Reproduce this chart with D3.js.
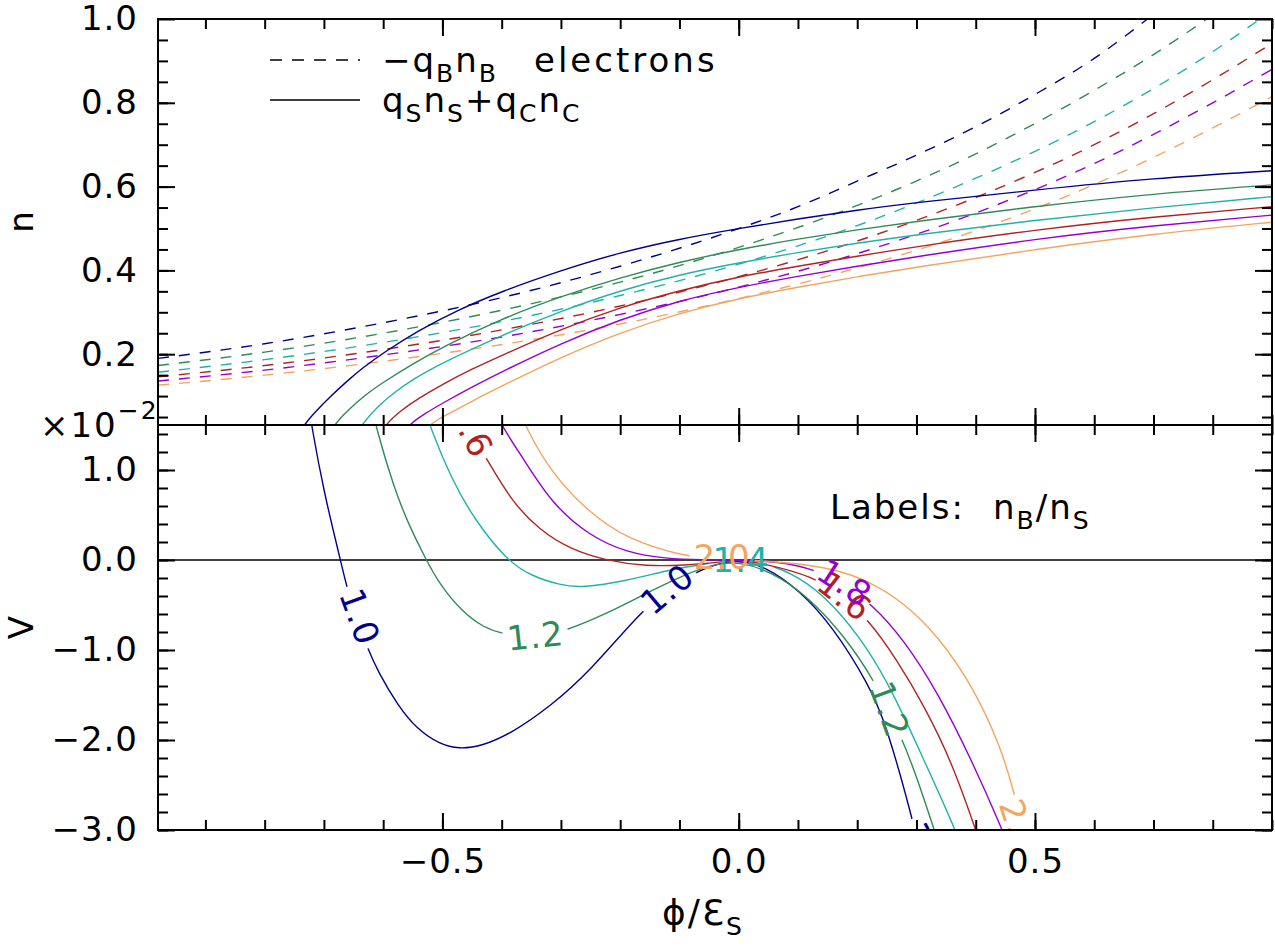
<!DOCTYPE html>
<html>
<head>
<meta charset="utf-8">
<script src="https://cdn.jsdelivr.net/npm/d3@7"></script>
<style>
  body { margin: 0; background: #fff; }
  text { font-family: "DejaVu Sans", sans-serif; }
</style>
</head>
<body>
<script>
'use strict';

// nB/nS ratio of each curve, and its colour
const ratios = ["1.0", "1.2", "1.4", "1.6", "1.8", "2.0"];
const colors = ["#00008b", "#2e8b57", "#20b2aa", "#b22222", "#9400d3", "#f4a460"];

// top panel, dashed: -qB nB (electrons), [phi, n]
const electronDensity = [
  [[-0.98,0.190],[-0.8,0.225],[-0.6,0.275],[-0.4,0.335],[-0.2,0.41],[0,0.50],[0.1,0.552],[0.2,0.613],[0.3,0.675],[0.4,0.743],[0.5,0.82],[0.6,0.906],[0.69,1.0]],
  [[-0.98,0.173],[-0.8,0.205],[-0.6,0.25],[-0.4,0.305],[-0.2,0.372],[0,0.455],[0.2,0.555],[0.4,0.678],[0.6,0.83],[0.7,0.915],[0.79,1.0]],
  [[-0.98,0.157],[-0.8,0.187],[-0.6,0.228],[-0.4,0.278],[-0.2,0.34],[0,0.415],[0.2,0.507],[0.4,0.62],[0.6,0.755],[0.8,0.922],[0.88,1.0]],
  [[-0.98,0.146],[-0.8,0.173],[-0.6,0.211],[-0.4,0.258],[-0.2,0.315],[0,0.385],[0.2,0.47],[0.4,0.574],[0.6,0.70],[0.8,0.855],[0.9,0.942]],
  [[-0.98,0.136],[-0.8,0.162],[-0.6,0.198],[-0.4,0.241],[-0.2,0.295],[0,0.36],[0.2,0.44],[0.4,0.537],[0.6,0.655],[0.8,0.80],[0.9,0.88]],
  [[-0.98,0.126],[-0.8,0.15],[-0.6,0.183],[-0.4,0.223],[-0.2,0.272],[0,0.333],[0.2,0.406],[0.4,0.495],[0.6,0.605],[0.8,0.74],[0.9,0.815]]
];

// top panel, solid: qS nS + qC nC, [phi, n]
const ionDensity = [
  [[-0.745,0.0],[-0.734,0.031],[-0.715,0.062],[-0.69,0.098],[-0.66,0.137],[-0.634,0.168],[-0.6,0.203],[-0.543,0.255],[-0.475,0.305],[-0.4,0.35],[-0.3,0.40],[-0.2,0.443],[-0.1,0.475],[0,0.50],[0.1,0.523],[0.2,0.544],[0.3,0.562],[0.5,0.592],[0.7,0.620],[0.9,0.638]],
  [[-0.694,0.0],[-0.683,0.031],[-0.66,0.066],[-0.63,0.103],[-0.6,0.133],[-0.55,0.177],[-0.5,0.217],[-0.4,0.285],[-0.3,0.338],[-0.2,0.383],[-0.1,0.42],[0,0.45],[0.1,0.475],[0.2,0.497],[0.3,0.517],[0.5,0.553],[0.7,0.583],[0.9,0.604]],
  [[-0.648,0.0],[-0.637,0.031],[-0.61,0.075],[-0.58,0.11],[-0.55,0.14],[-0.5,0.18],[-0.4,0.245],[-0.3,0.303],[-0.2,0.352],[-0.1,0.39],[0,0.418],[0.1,0.443],[0.2,0.465],[0.3,0.485],[0.5,0.52],[0.7,0.55],[0.9,0.576]],
  [[-0.608,0.0],[-0.597,0.031],[-0.57,0.066],[-0.54,0.095],[-0.5,0.128],[-0.45,0.165],[-0.4,0.197],[-0.3,0.26],[-0.2,0.312],[-0.1,0.352],[0,0.385],[0.1,0.41],[0.2,0.434],[0.3,0.457],[0.5,0.497],[0.7,0.528],[0.9,0.552]],
  [[-0.569,0.0],[-0.558,0.031],[-0.53,0.058],[-0.5,0.083],[-0.45,0.122],[-0.4,0.158],[-0.3,0.226],[-0.2,0.283],[-0.1,0.328],[0,0.36],[0.1,0.386],[0.2,0.41],[0.3,0.433],[0.5,0.475],[0.7,0.507],[0.9,0.532]],
  [[-0.535,0.0],[-0.524,0.031],[-0.5,0.05],[-0.45,0.088],[-0.4,0.124],[-0.3,0.193],[-0.2,0.252],[-0.1,0.298],[0,0.333],[0.1,0.36],[0.2,0.385],[0.3,0.408],[0.5,0.45],[0.7,0.487],[0.9,0.515]]
];

// bottom panel: Sagdeev potential V (x 10^-2), [phi, V]
const potential = [
  [[-0.725,1.7],[-0.721,1.5],[-0.70,0.75],[-0.672,0],[-0.662,-0.29],[-0.645,-0.65],[-0.627,-0.97],[-0.608,-1.25],[-0.575,-1.62],[-0.543,-1.88],[-0.504,-2.05],[-0.472,-2.10],[-0.434,-2.07],[-0.382,-1.92],[-0.317,-1.62],[-0.253,-1.25],[-0.166,-0.58],[-0.12,-0.33],[-0.08,-0.16],[-0.04,-0.045],[0,0],[0.043,-0.067],[0.102,-0.33],[0.16,-0.75],[0.219,-1.38],[0.248,-1.80],[0.295,-2.92],[0.30,-3.1]],
  [[-0.615,1.6],[-0.613,1.5],[-0.582,0.80],[-0.556,0.38],[-0.529,0.02],[-0.504,-0.28],[-0.466,-0.58],[-0.43,-0.75],[-0.40,-0.82],[-0.35,-0.86],[-0.295,-0.80],[-0.221,-0.59],[-0.156,-0.37],[-0.10,-0.19],[-0.05,-0.06],[0,0],[0.072,-0.18],[0.131,-0.50],[0.178,-0.85],[0.228,-1.32],[0.275,-1.97],[0.301,-2.42],[0.33,-3.0],[0.335,-3.1]],
  [[-0.525,1.6],[-0.522,1.5],[-0.485,0.9],[-0.446,0.45],[-0.392,0.0],[-0.35,-0.18],[-0.30,-0.28],[-0.266,-0.31],[-0.188,-0.23],[-0.124,-0.12],[-0.059,-0.04],[0,0],[0.043,-0.03],[0.102,-0.18],[0.16,-0.49],[0.219,-0.99],[0.26,-1.47],[0.307,-2.14],[0.366,-3.0],[0.37,-3.1]],
  [[-0.47,1.65],[-0.458,1.5],[-0.443,1.32],[-0.427,1.14],[-0.382,0.64],[-0.337,0.34],[-0.285,0.12],[-0.221,-0.01],[-0.156,-0.07],[-0.092,-0.06],[-0.027,-0.02],[0,0],[0.043,-0.04],[0.125,-0.18],[0.17,-0.38],[0.219,-0.66],[0.266,-1.10],[0.313,-1.62],[0.36,-2.25],[0.40,-3.0],[0.405,-3.1]],
  [[-0.405,1.6],[-0.401,1.5],[-0.363,1.12],[-0.317,0.64],[-0.253,0.27],[-0.188,0.08],[-0.124,0.015],[-0.06,0.0],[0,0],[0.072,-0.02],[0.125,-0.10],[0.175,-0.26],[0.225,-0.49],[0.278,-0.88],[0.336,-1.47],[0.395,-2.25],[0.445,-3.0],[0.45,-3.1]],
  [[-0.365,1.6],[-0.361,1.5],[-0.317,0.97],[-0.253,0.53],[-0.188,0.23],[-0.092,0.04],[-0.04,0.01],[0,0],[0.043,-0.01],[0.10,-0.04],[0.16,-0.10],[0.219,-0.23],[0.278,-0.47],[0.336,-0.84],[0.395,-1.40],[0.442,-2.07],[0.465,-2.59],[0.48,-3.0],[0.483,-3.1]]
];

// contour labels written on the potential curves: series, phi, V, angle (deg)
const curveLabels = [
  [0, -0.639, -0.63, 70], [0, -0.121, -0.32, -40], [0, 0.31, -3.22, 74],
  [1, -0.343, -0.84, -6], [1, 0.255, -1.66, 70],
  [2, 0.004, 0.0, 0],
  [3, -0.452, 1.45, 62], [3, 0.179, -0.40, 38],
  [4, 0.179, -0.25, 33],
  [5, -0.028, 0.04, 0], [5, 0.473, -2.97, 72]
];

const xMajor = [-0.5, 0, 0.5];
const xMinor = d3.range(-9, 10).map(d => d / 10);
const nMajor = [0.2, 0.4, 0.6, 0.8, 1.0];
const nMinor = d3.range(1, 20).map(d => d / 20);
const vMajor = [-3, -2, -1, 0, 1];
const vMinor = d3.range(-15, 8).map(d => d / 5);

(function() {

  const W = 1275, H = 947;
  const L = 158, R = 1272, T = 19, M = 425, B = 830;

  const svg = d3.select('body').append('svg')
    .attr('width', W)
    .attr('height', H);

  const x = d3.scaleLinear().domain([-0.98, 0.9]).range([L, R]);
  const yN = d3.scaleLinear().domain([0.031, 1.0]).range([M, T]);
  const yV = d3.scaleLinear().domain([-3, 1.5]).range([B, M]);

  const defs = svg.append('defs');
  defs.append('clipPath').attr('id', 'clipTop')
    .append('rect').attr('x', L).attr('y', T).attr('width', R - L).attr('height', M - T);
  defs.append('clipPath').attr('id', 'clipBot')
    .append('rect').attr('x', L).attr('y', M).attr('width', R - L).attr('height', B - M);

  /**** top panel: densities ****/
  const topG = svg.append('g').attr('clip-path', 'url(#clipTop)');
  const lineE = d3.line().x(d => x(d[0])).y(d => yN(d[1])).curve(d3.curveMonotoneX);
  const lineN = d3.line().x(d => x(d[0])).y(d => yN(d[1])).curve(d3.curveBasis);

  electronDensity.forEach((s, i) => {
    topG.append('path')
      .attr('d', lineE(s))
      .attr('fill', 'none')
      .attr('stroke', colors[i])
      .attr('stroke-width', 1.4)
      .attr('stroke-dasharray', '11,10');
  });
  ionDensity.forEach((s, i) => {
    topG.append('path')
      .attr('d', lineN(s))
      .attr('fill', 'none')
      .attr('stroke', colors[i])
      .attr('stroke-width', 1.4);
  });

  /**** bottom panel: potential ****/
  const botG = svg.append('g').attr('clip-path', 'url(#clipBot)');
  const lineV = d3.line().x(d => x(d[0])).y(d => yV(d[1])).curve(d3.curveBasis);

  botG.append('line')
    .attr('x1', L).attr('x2', R)
    .attr('y1', yV(0)).attr('y2', yV(0))
    .attr('stroke', 'black')
    .attr('stroke-width', 1.5);

  // one mask per curve, black holes where its labels sit
  const masks = colors.map((c, i) => {
    const m = defs.append('mask').attr('id', 'gap' + i)
      .attr('maskUnits', 'userSpaceOnUse')
      .attr('x', 0).attr('y', 0).attr('width', W).attr('height', H);
    m.append('rect').attr('width', W).attr('height', H).attr('fill', 'white');
    return m;
  });

  const curveG = botG.append('g');
  const labelG = botG.append('g');

  curveLabels.forEach(lb => {
    const [s, px, pv, ang] = lb;
    const cx = x(px), cy = yV(pv);
    const t = labelG.append('text')
      .attr('transform', 'translate(' + cx + ',' + cy + ') rotate(' + ang + ')')
      .attr('text-anchor', 'middle')
      .attr('dy', '0.36em')
      .attr('font-size', 34)
      .attr('letter-spacing', 1)
      .attr('fill', colors[s])
      .text(ratios[s]);
    const w = t.node().getComputedTextLength() + 8;
    masks[s].append('rect')
      .attr('transform', 'translate(' + cx + ',' + cy + ') rotate(' + ang + ')')
      .attr('x', -w / 2).attr('y', -16)
      .attr('width', w).attr('height', 32)
      .attr('fill', 'black');
  });

  potential.forEach((s, i) => {
    curveG.append('path')
      .attr('d', lineV(s))
      .attr('fill', 'none')
      .attr('stroke', colors[i])
      .attr('stroke-width', 1.4)
      .attr('mask', 'url(#gap' + i + ')');
  });

  /**** axes ****/
  function styleAxis(g) {
    g.select('.domain').remove();
    g.selectAll('line').attr('stroke', 'black').attr('stroke-width', 2);
    g.selectAll('text')
      .attr('font-family', '"DejaVu Sans", sans-serif')
      .attr('font-size', 34)
      .attr('letter-spacing', 1)
      .attr('fill', 'black');
  }
  function ticks(gen, scale, pos, major, minor, labelled, fmt, pad) {
    const g = svg.append('g');
    const a = g.append('g').attr('transform', pos)
      .call(gen(scale).tickValues(minor).tickSizeInner(-10).tickSizeOuter(0).tickFormat(''));
    styleAxis(a);
    const b = g.append('g').attr('transform', pos)
      .call(gen(scale).tickValues(major).tickSizeInner(-17).tickSizeOuter(0).tickPadding(pad || 0)
        .tickFormat(labelled ? d3.format(fmt) : ''));
    styleAxis(b);
    return b;
  }

  // x ticks on all four horizontal edges
  ticks(d3.axisBottom, x, 'translate(0,' + B + ')', xMajor, xMinor, true, '.1f', 19);
  ticks(d3.axisTop, x, 'translate(0,' + M + ')', xMajor, xMinor, false);
  ticks(d3.axisBottom, x, 'translate(0,' + M + ')', xMajor, xMinor, false);
  ticks(d3.axisTop, x, 'translate(0,' + T + ')', xMajor, xMinor, false);

  // y ticks, top panel
  ticks(d3.axisLeft, yN, 'translate(' + L + ',0)', nMajor, nMinor, true, '.1f', 20);
  ticks(d3.axisRight, yN, 'translate(' + R + ',0)', nMajor, nMinor, false);
  // y ticks, bottom panel
  ticks(d3.axisLeft, yV, 'translate(' + L + ',0)', vMajor, vMinor, true, '.1f', 20);
  ticks(d3.axisRight, yV, 'translate(' + R + ',0)', vMajor, vMinor, false);

  // frames
  [[T, M], [M, B]].forEach(p => {
    svg.append('rect')
      .attr('x', L).attr('y', p[0])
      .attr('width', R - L).attr('height', p[1] - p[0])
      .attr('fill', 'none')
      .attr('stroke', 'black')
      .attr('stroke-width', 2);
  });

  /**** titles and legend ****/
  function rich(xp, yp, parts, size) {
    const t = svg.append('text')
      .attr('x', xp).attr('y', yp)
      .attr('font-size', size || 34)
      .attr('letter-spacing', 2)
      .attr('fill', 'black');
    let sub = false;
    parts.forEach(p => {
      const isSub = p[1] === 'sub', isSup = p[1] === 'sup';
      const ts = t.append('tspan').text(p[0]);
      if (isSub) { ts.attr('font-size', 25).attr('dy', sub ? 0 : 10); }
      else if (isSup) { ts.attr('font-size', 25).attr('dy', -18); }
      else if (sub) { ts.attr('dy', -10); }
      sub = isSub;
    });
    return t;
  }

  // y titles
  svg.append('text')
    .attr('transform', 'translate(33,' + (T + M) / 2 + ') rotate(-90)')
    .attr('text-anchor', 'middle')
    .attr('font-size', 34)
    .text('n');
  svg.append('text')
    .attr('transform', 'translate(33,' + (M + B) / 2 + ') rotate(-90)')
    .attr('text-anchor', 'middle')
    .attr('font-size', 34)
    .text('V');

  // multiplier of the V axis
  rich(40, 437, [['×10'], ['−2', 'sup']]);

  // x title
  rich(662, 925, [['ϕ/Ɛ'], ['S', 'sub']], 36);

  // legend
  svg.append('line')
    .attr('x1', 270).attr('x2', 360).attr('y1', 60).attr('y2', 60)
    .attr('stroke', 'black').attr('stroke-width', 1.5)
    .attr('stroke-dasharray', '12,10');
  svg.append('line')
    .attr('x1', 270).attr('x2', 360).attr('y1', 100).attr('y2', 100)
    .attr('stroke', 'black').attr('stroke-width', 1.5);
  rich(382, 72, [['−q'], ['B', 'sub'], ['n'], ['B', 'sub']]);
  rich(534, 72, [['electrons']]).attr('letter-spacing', 3);
  rich(382, 112, [['q'], ['S', 'sub'], ['n'], ['S', 'sub'], ['+q'], ['C', 'sub'], ['n'], ['C', 'sub']]);

  rich(830, 519, [['Labels:']]);
  rich(993, 519, [['n'], ['B', 'sub'], ['/n'], ['S', 'sub']]);

})();
</script>
</body>
</html>
